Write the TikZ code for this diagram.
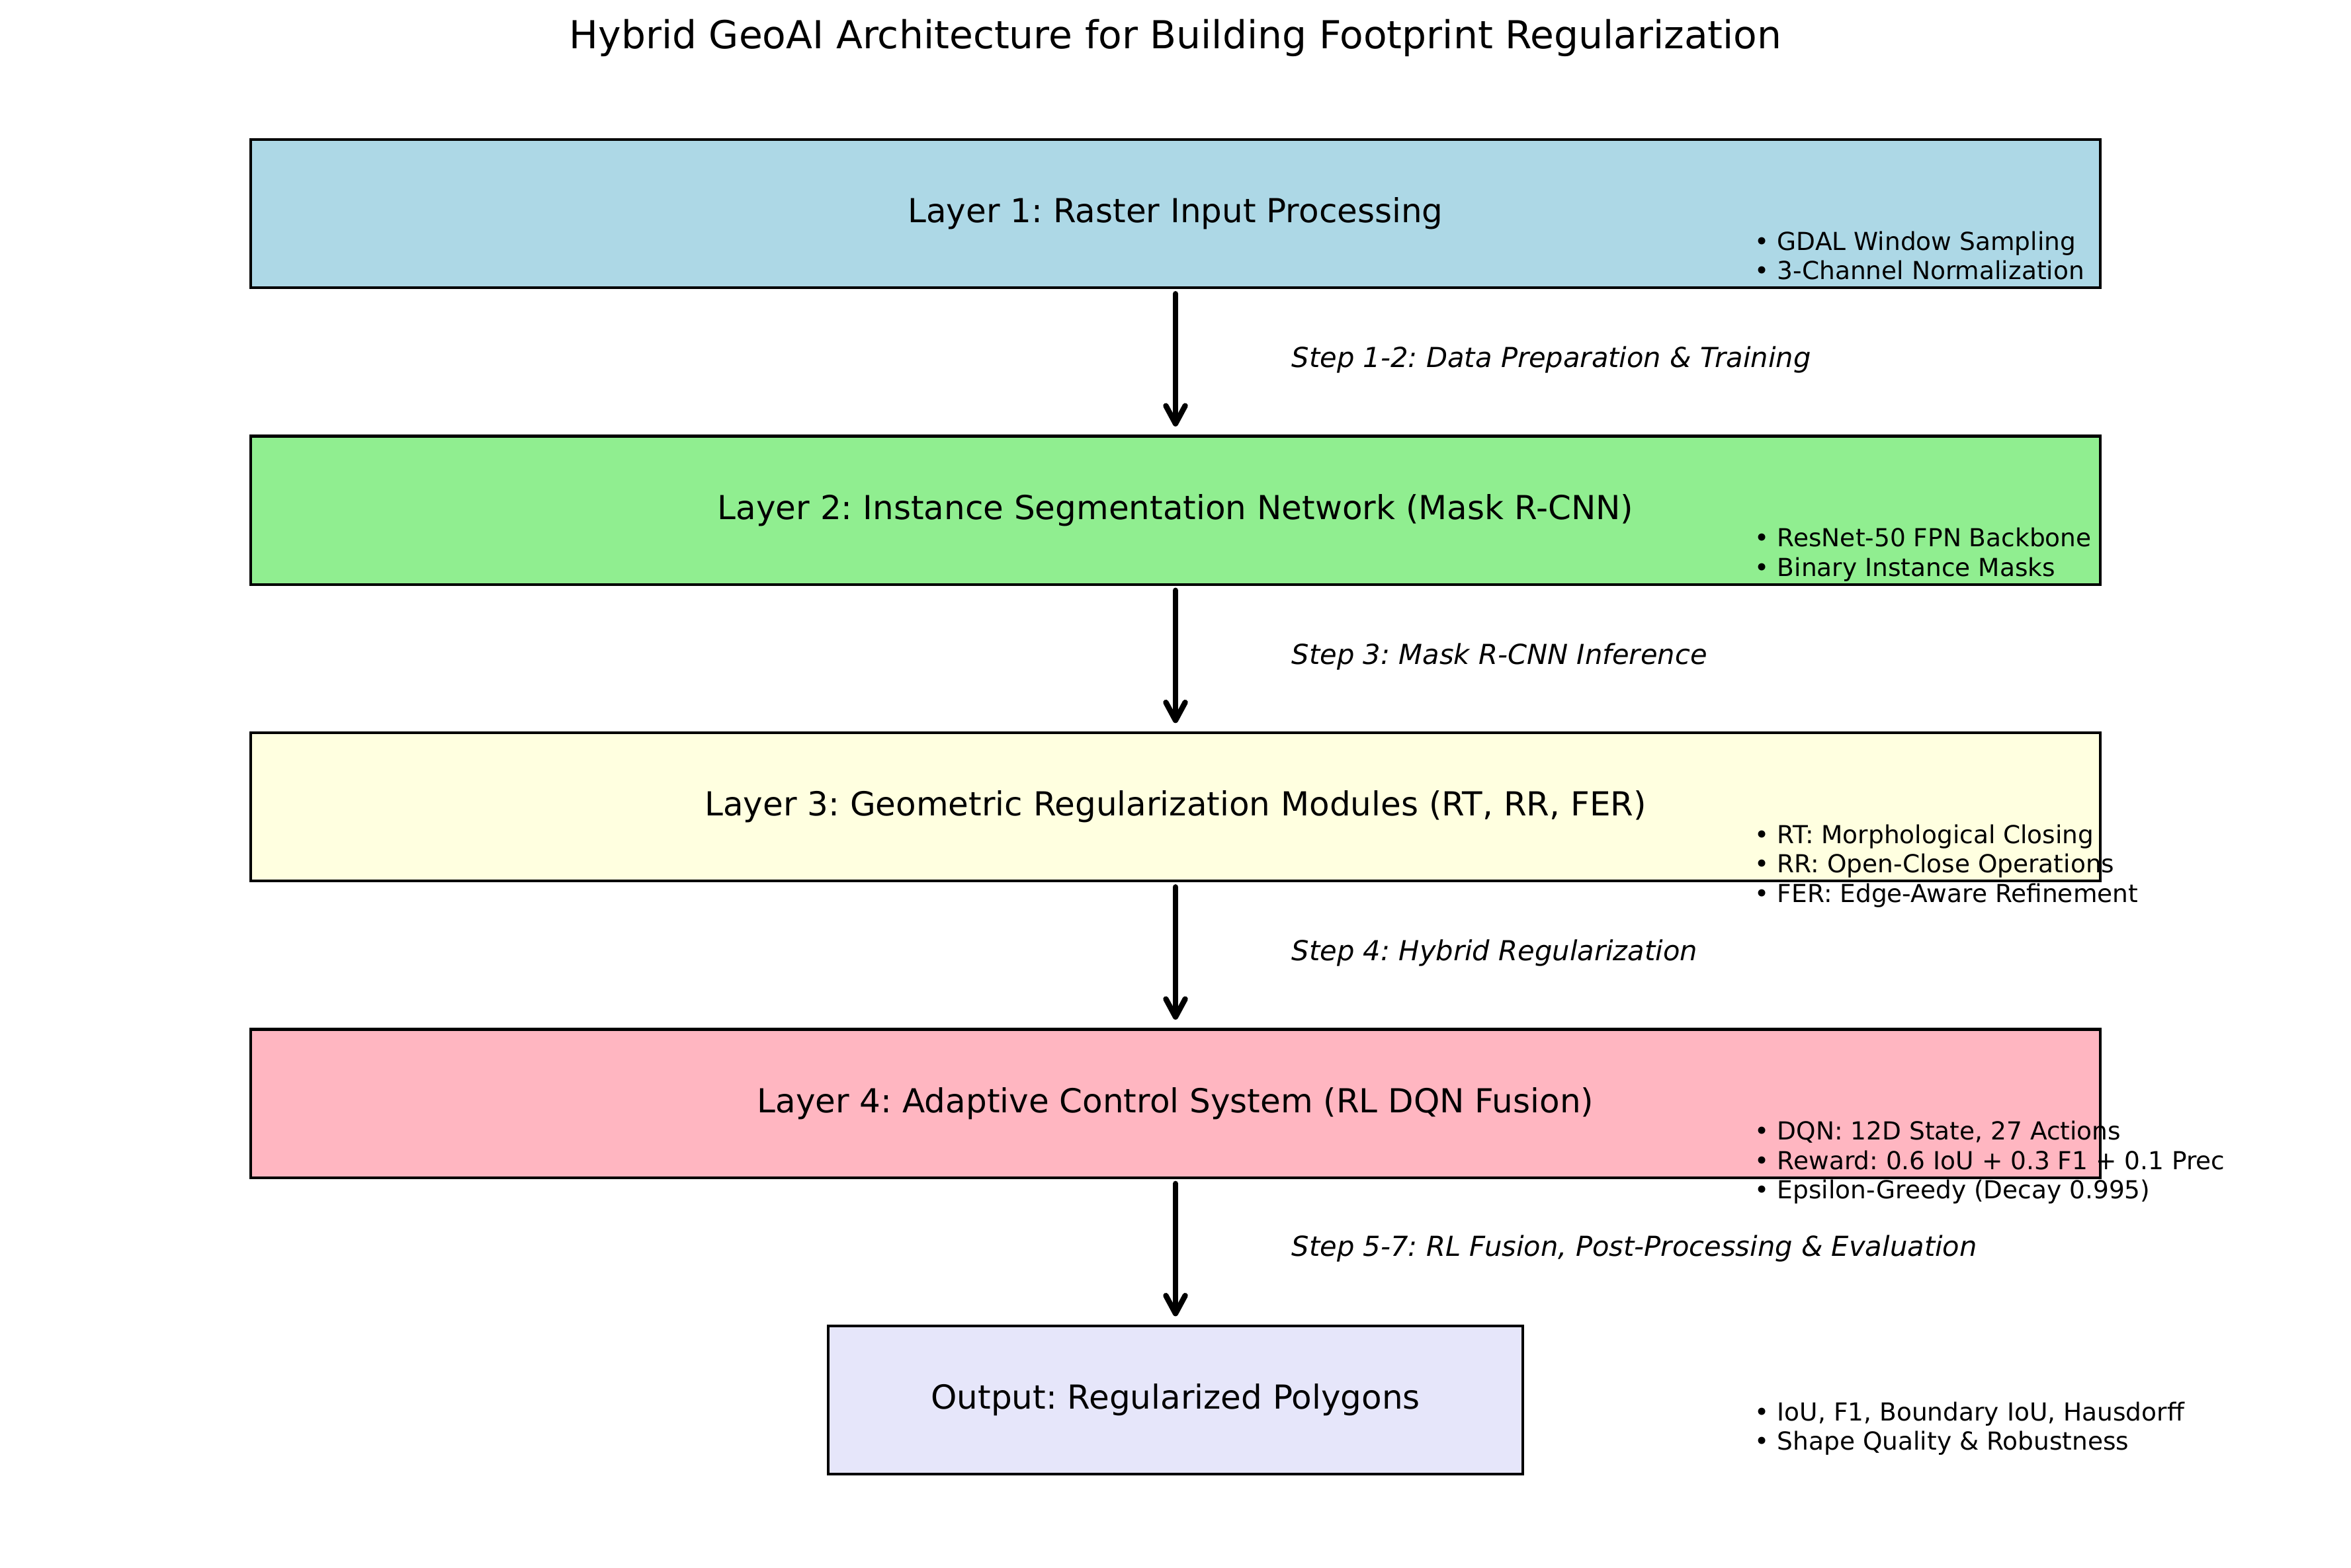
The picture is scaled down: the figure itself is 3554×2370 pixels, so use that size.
\documentclass[tikz,border=0pt]{standalone}
\usepackage{fontspec}
\setmainfont{DejaVu Sans}
\usepackage{tikz}
\usetikzlibrary{arrows.meta,positioning,calc}
\definecolor{layerone}{HTML}{ADD8E6}
\definecolor{layertwo}{HTML}{90EE90}
\definecolor{layerthree}{HTML}{FFFFE0}
\definecolor{layerfour}{HTML}{FFB6C1}
\definecolor{outbox}{HTML}{E6E6FA}
\frenchspacing

\begin{document}
\begin{tikzpicture}[x=0.24pt, y=-0.24pt,
  layer/.style={draw=black, line width=1pt, minimum width=671pt,
    minimum height=53.8pt, inner sep=0pt, font=\fontsize{12}{14}\selectfont},
  steplabel/.style={font=\fontsize{10}{12}\selectfont\itshape, anchor=west, inner sep=0pt},
  bullet/.style={font=\fontsize{9}{10.8}\selectfont, anchor=base west, inner sep=0pt},
  flow/.style={-{Straight Barb[length=6.5pt, width=7pt, round]}, line width=2pt,
    line cap=round, shorten <=1.7pt, shorten >=3pt}]
  \useasboundingbox (0,0) rectangle (3554,2370);

  % Title
  \node[font=\fontsize{14}{17}\selectfont] (title) at (1777,57)
    {Hybrid GeoAI Architecture for Building Footprint Regularization};

  % Layers
  \node[layer, fill=layerone]   (l1) at (1777,323)    {Layer 1: Raster Input Processing};
  \node[layer, fill=layertwo]   (l2) at (1777,771.5)  {Layer 2: Instance Segmentation Network (Mask R-CNN)};
  \node[layer, fill=layerthree] (l3) at (1777,1220)   {Layer 3: Geometric Regularization Modules (RT, RR, FER)};
  \node[layer, fill=layerfour]  (l4) at (1777,1668.5) {Layer 4: Adaptive Control System (RL DQN Fusion)};
  \node[layer, fill=outbox, minimum width=252pt] (out) at (1777,2117) {Output: Regularized Polygons};

  % Flow arrows
  \draw[flow] (l1.south) -- (l2.north);
  \draw[flow] (l2.south) -- (l3.north);
  \draw[flow] (l3.south) -- (l4.north);
  \draw[flow] (l4.south) -- (out.north);

  % Step labels
  \node[steplabel] (s1) at (1952,544)  {Step 1-2: Data Preparation \& Training};
  \node[steplabel] (s2) at (1952,993)  {Step 3: Mask R-CNN Inference};
  \node[steplabel] (s3) at (1952,1441) {Step 4: Hybrid Regularization};
  \node[steplabel] (s4) at (1952,1888) {Step 5-7: RL Fusion, Post-Processing \& Evaluation};

  % Details
  \foreach \txt [count=\i] in {GDAL Window Sampling, 3-Channel Normalization}
    \node[bullet] (d1-\i) at (2652,{378+44.5*(\i-1)}) {• \txt};
  \foreach \txt [count=\i] in {ResNet-50 FPN Backbone, Binary Instance Masks}
    \node[bullet] (d2-\i) at (2652,{826.5+44.5*(\i-1)}) {• \txt};
  \foreach \txt [count=\i] in {RT: Morphological Closing, RR: Open-Close Operations,
      FER: Edge-Aware Refinement}
    \node[bullet] (d3-\i) at (2652,{1275+44.5*(\i-1)}) {• \txt};
  \foreach \txt [count=\i] in {{DQN: 12D State, 27 Actions}, Reward: 0.6 IoU + 0.3 F1 + 0.1 Prec,
      Epsilon-Greedy (Decay 0.995)}
    \node[bullet] (d4-\i) at (2652,{1723.5+44.5*(\i-1)}) {• \txt};
  \foreach \txt [count=\i] in {{IoU, F1, Boundary IoU, Hausdorff}, Shape Quality \& Robustness}
    \node[bullet] (d5-\i) at (2652,{2148+44.5*(\i-1)}) {• \txt};
\end{tikzpicture}
\end{document}
